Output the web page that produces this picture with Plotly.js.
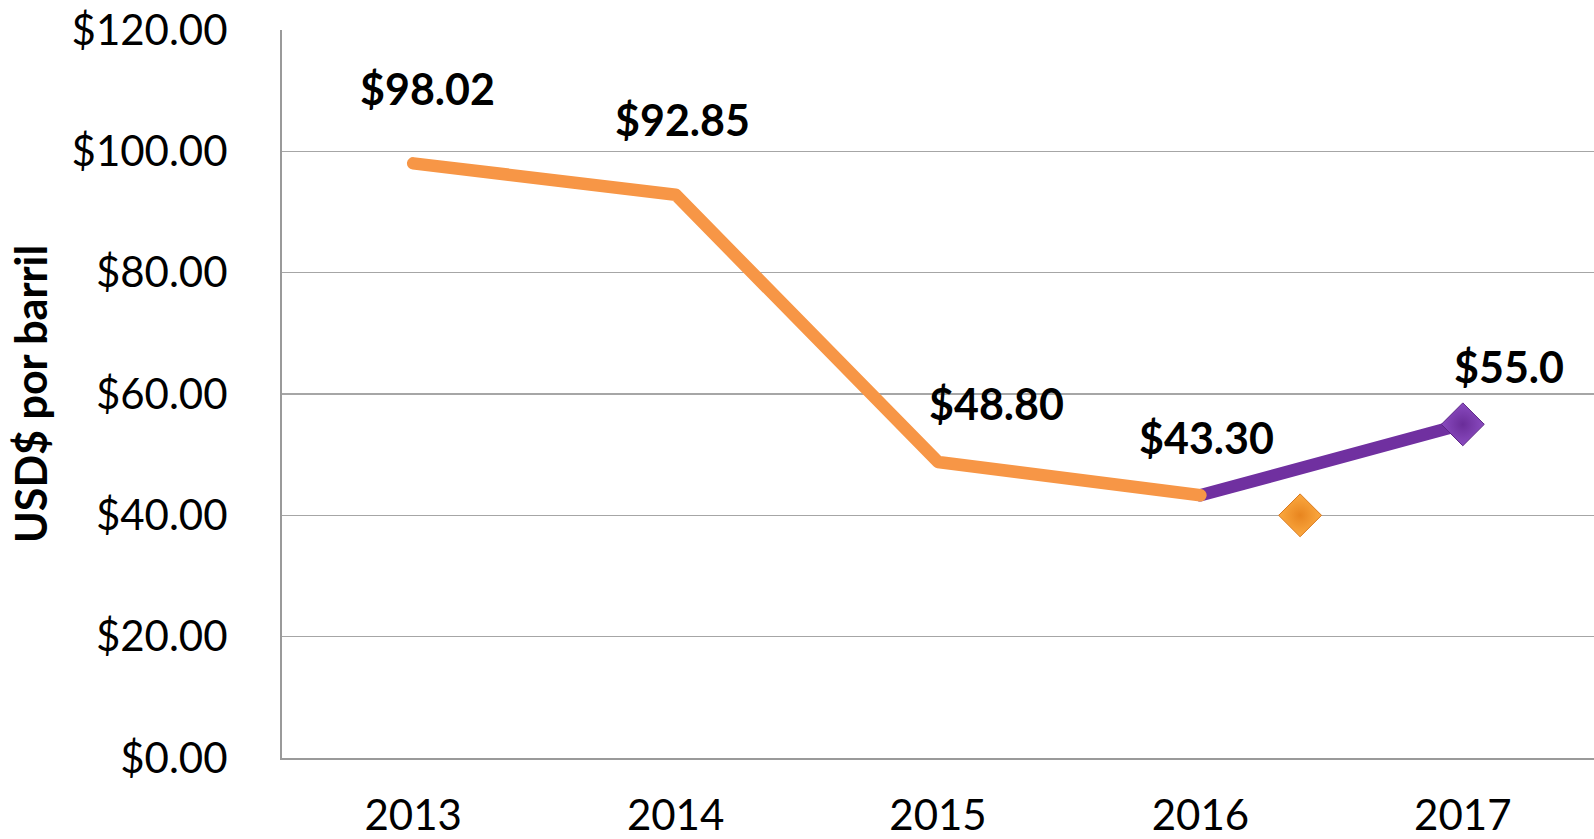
<!DOCTYPE html>
<html>
<head>
<meta charset="utf-8">
<script src="https://cdn.plot.ly/plotly-3.0.1.min.js"></script>
<style>
  html, body { margin: 0; padding: 0; background: #fff; }
  #chart { width: 1594px; height: 839px; }
  .scatterlayer path.js-line { stroke-linecap: round; stroke-linejoin: round; }
</style>
</head>
<body>
<div id="chart"></div>
<script>
// datos
const years = ["2013", "2014", "2015", "2016", "2017"];
const yearPos = [0, 1, 2, 3, 4];

// serie histórica (naranja)
const histX = [0, 1, 2, 3];
const histY = [98.02, 92.85, 48.80, 43.30];

// proyección (morado)
const projX = [3, 4];
const projY = [43.30, 55.0];

// rombo naranja suelto
const extraX = [3.38];
const extraY = [40];

const yTicks = [0, 20, 40, 60, 80, 100, 120];

// desplazamiento de cada etiqueta (px)
const histShift = [[14, 75], [7, 75], [58, 58], [6, 58]];
const projShift = [46, 58];

const orange = "#F79646";
const purple = "#7030A0";
const font = "Lato, 'Open Sans', sans-serif";

const traces = [
  {
    x: projX, y: projY, type: "scatter", mode: "lines",
    line: { color: purple, width: 12.5 },
    hoverinfo: "skip"
  },
  {
    x: histX, y: histY, type: "scatter", mode: "lines",
    line: { color: orange, width: 12.5, shape: "linear" },
    hoverinfo: "skip"
  },
  {
    x: [projX[1]], y: [projY[1]], type: "scatter", mode: "markers",
    marker: { symbol: "diamond", size: 33, color: "#8A4BC0",
      line: { color: "#5B2585", width: 1 },
      gradient: { type: "radial", color: "#6A2D99" } },
    hoverinfo: "skip"
  },
  {
    x: extraX, y: extraY, type: "scatter", mode: "markers",
    marker: { symbol: "diamond", size: 33, color: "#FBA940",
      line: { color: "#D9781C", width: 1 },
      gradient: { type: "radial", color: "#E8851F" } },
    hoverinfo: "skip"
  }
];

const annotations = [];
histY.forEach((v, i) => {
  annotations.push({
    x: histX[i], y: v, xref: "x", yref: "y",
    text: "$" + v.toFixed(2), showarrow: false,
    xshift: histShift[i][0], yshift: histShift[i][1],
    font: { family: font, size: 43, color: "#000", weight: "bold" }
  });
});
annotations.push({
  x: projX[1], y: projY[1], xref: "x", yref: "y",
  text: "$" + projY[1].toFixed(1), showarrow: false,
  xshift: projShift[0], yshift: projShift[1],
  font: { family: font, size: 43, color: "#000", weight: "bold" }
});

const layout = {
  width: 1594,
  height: 839,
  margin: { l: 282, r: 0, t: 30, b: 81 },
  paper_bgcolor: "#fff",
  plot_bgcolor: "#fff",
  showlegend: false,
  xaxis: {
    range: [-0.5, 4.5],
    tickvals: yearPos,
    ticktext: years,
    showgrid: false,
    zeroline: false,
    showline: true,
    linecolor: "#9a9a9a",
    linewidth: 2,
    ticks: "",
    ticklabelstandoff: 20,
    tickfont: { family: font, size: 42, color: "#000" },
    fixedrange: true
  },
  yaxis: {
    range: [0, 120],
    tickvals: yTicks,
    ticktext: yTicks.map(v => "$" + v.toFixed(2)),
    showgrid: true,
    gridcolor: "#a6a6a6",
    gridwidth: 1.5,
    zeroline: false,
    showline: true,
    linecolor: "#9a9a9a",
    linewidth: 2,
    ticks: "",
    ticklabelstandoff: 44,
    tickfont: { family: font, size: 42, color: "#000" },
    title: {
      text: "USD$ por barril",
      standoff: 10,
      font: { family: font, size: 43, color: "#000", weight: "bold" }
    },
    fixedrange: true
  },
  annotations: annotations
};

Plotly.newPlot("chart", traces, layout, { displayModeBar: false, staticPlot: true });
</script>
</body>
</html>
